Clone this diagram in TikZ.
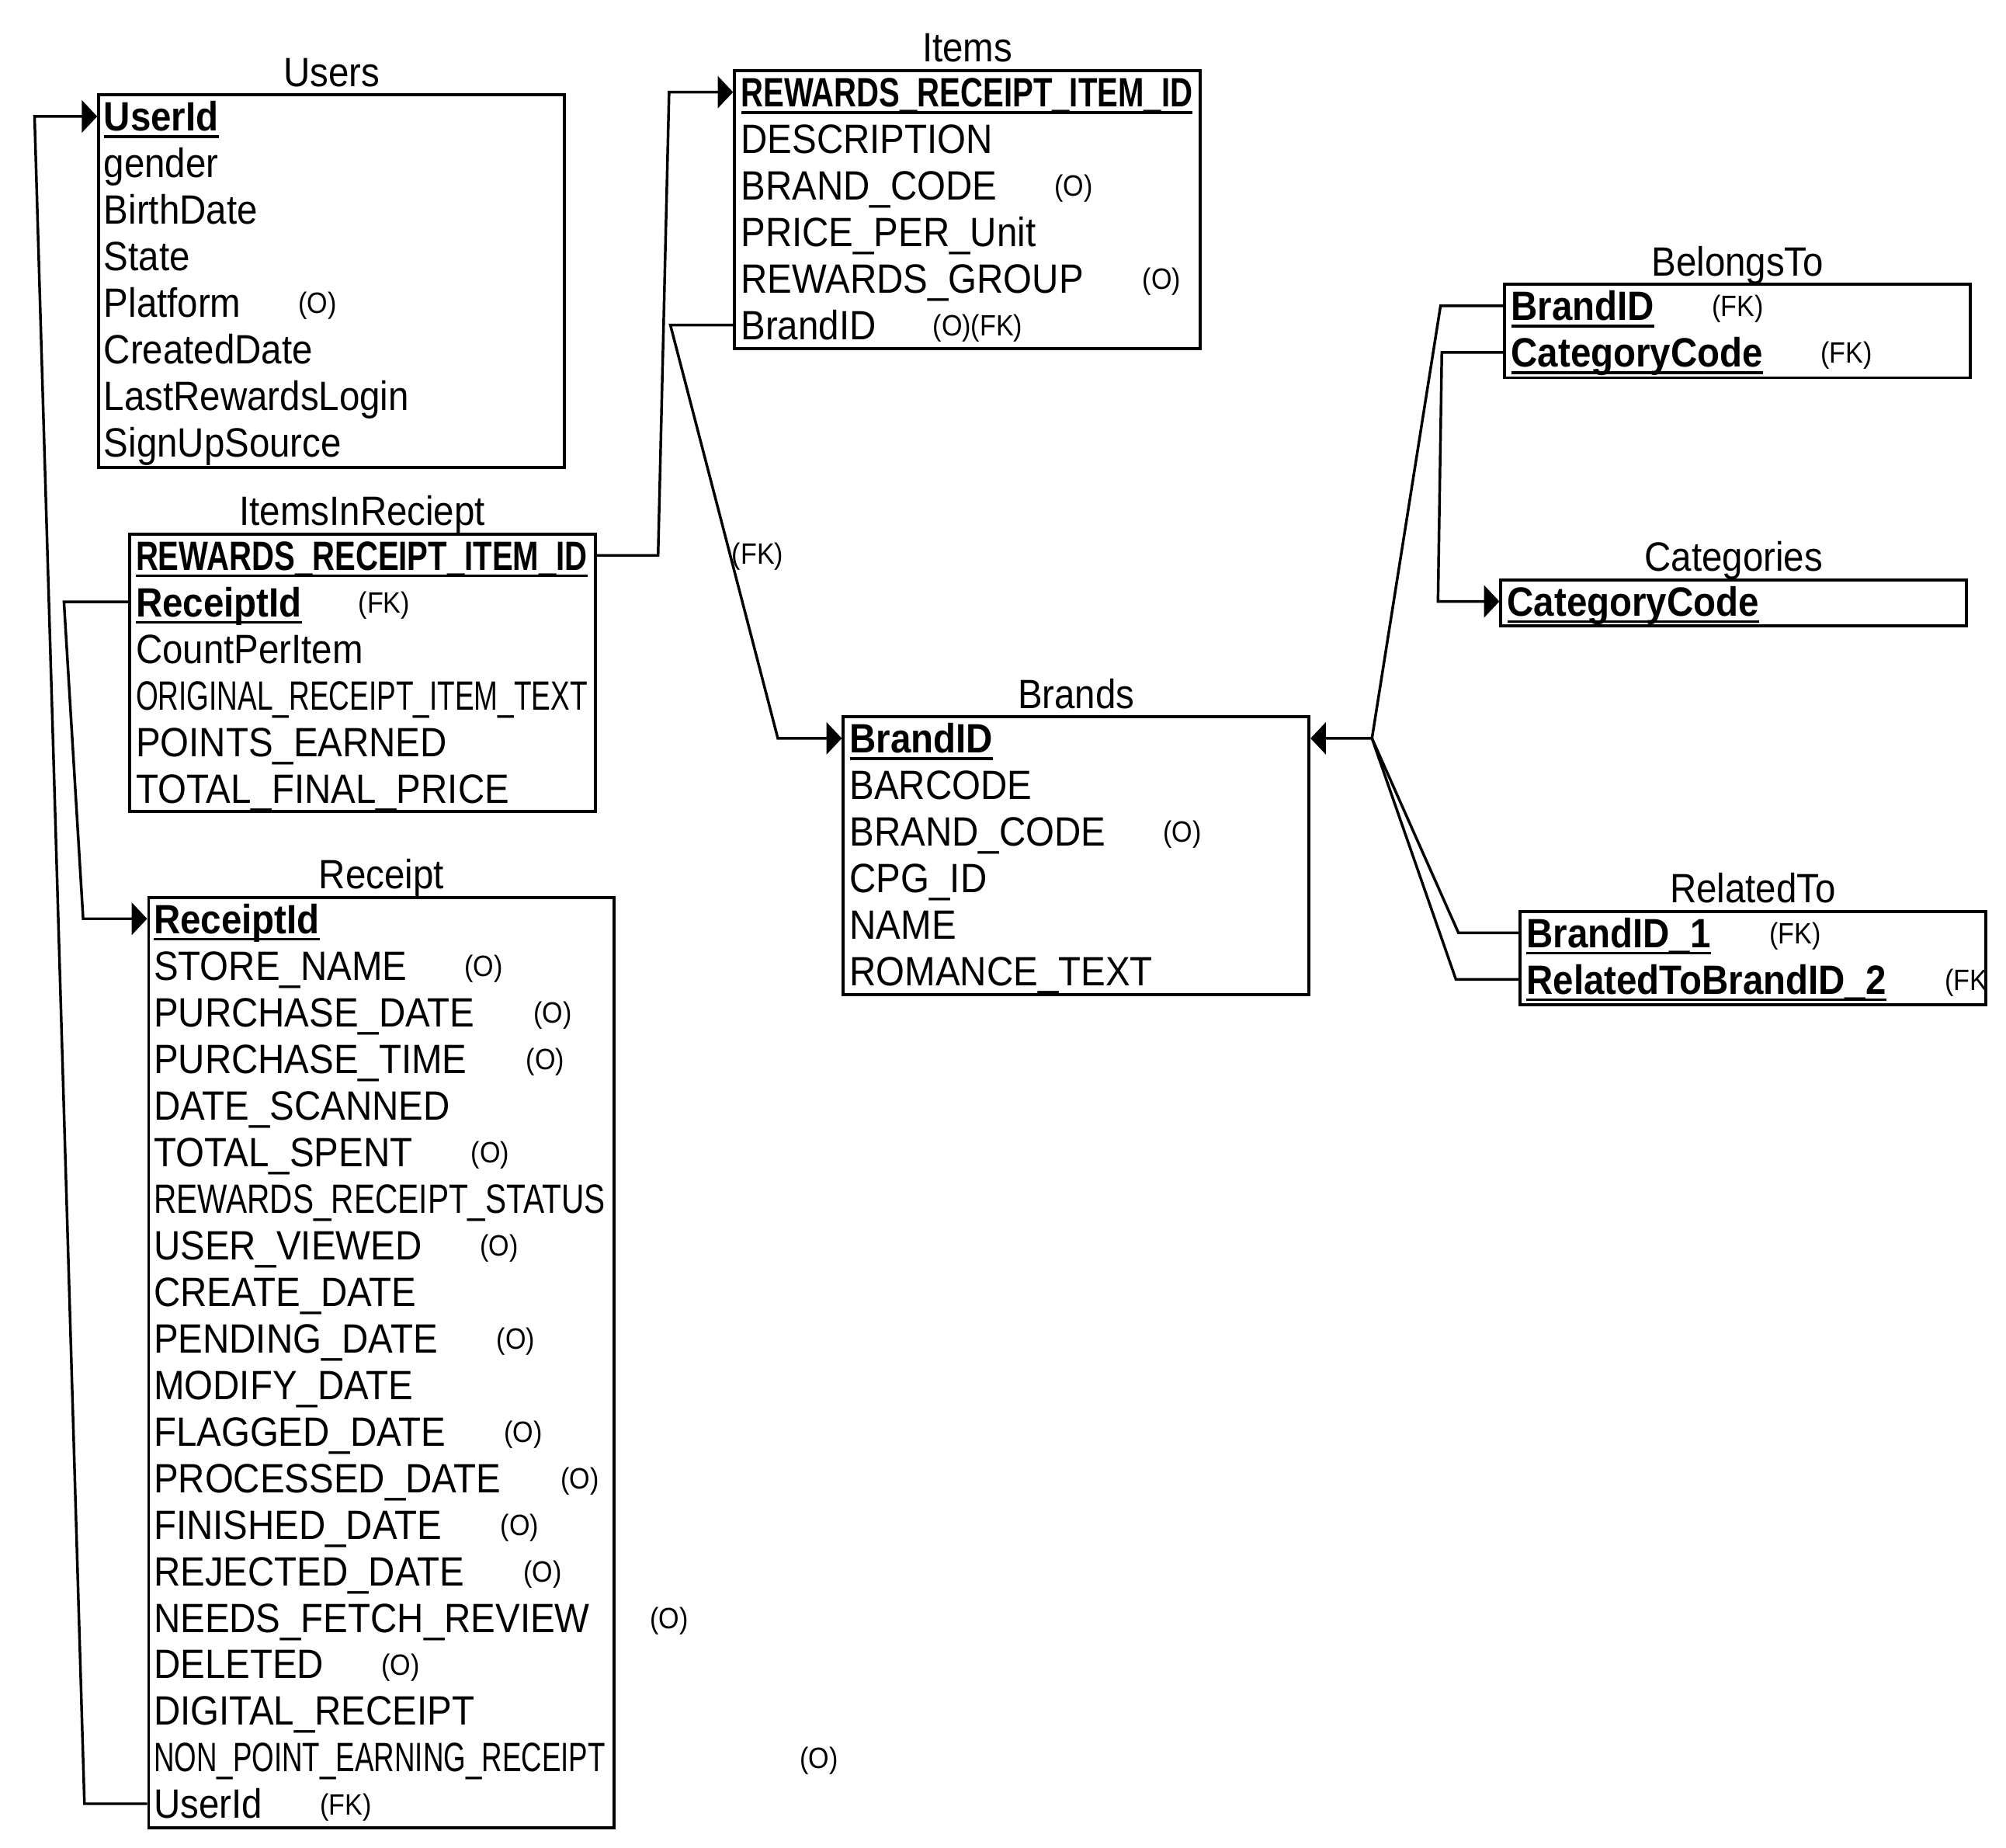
\documentclass[tikz,border=0pt]{standalone}
\usepackage{fontspec}
\setmainfont{Liberation Sans}[FakeStretch=0.9]
\usepackage{graphicx}
\usetikzlibrary{arrows.meta,calc}

% bold, underlined key attribute
\newcommand\ukey[1]{\setbox0\hbox{\bfseries #1}\rlap{\rule[-5.4pt]{\wd0}{2.1pt}}\box0}
% squeeze a long attribute name to the table width
\newcommand\fitw[1]{\resizebox{353pt}{\height}{#1}}

\tikzset{
  tbl/.style={draw, line width=2.4pt, anchor=north west, inner sep=0pt, minimum width=364pt},
  fld/.style={anchor=base west, inner sep=0pt, text height=23pt, text depth=0pt, font=\fontsize{32}{38}\selectfont},
  opt/.style={anchor=base west, inner sep=0pt, text height=16.5pt, text depth=0pt, yshift=3pt, font=\fontsize{23}{26}\selectfont},
  ttl/.style={anchor=base, inner sep=0pt, font=\fontsize{32}{38}\selectfont},
  link/.style={line width=2.1pt},
  fk/.style={link, -{Triangle[length=12pt,width=25pt]}},
}

\begin{document}
\begin{tikzpicture}[x=1pt, y=-1pt]
\useasboundingbox (0,0) rectangle (1568,1444);

% ---------------- Users
\node[tbl, minimum height=291pt] (us) at (76,73) {};
\node[ttl] (us-t) at ([yshift=5.5pt]us.north) {Users};
\node[fld] (us-uid) at (81,102.5) {\ukey{UserId}};
\node[fld] (us-gen) at (81,138.9) {gender};
\node[fld] (us-bd)  at (81,175.3) {BirthDate};
\node[fld] (us-st)  at (81,211.7) {State};
\node[fld] (us-pf)  at (81,248.1) {Platform};
\node[opt] (us-pfo) at (233,248.1) {(O)};
\node[fld] (us-cd)  at (81,284.5) {CreatedDate};
\node[fld] (us-lr)  at (81,320.9) {LastRewardsLogin};
\node[fld] (us-su)  at (81,357.3) {SignUpSource};

% ---------------- ItemsInReciept
\node[tbl, minimum height=217pt] (iir) at (100,416) {};
\node[ttl] (iir-t) at ([yshift=5.5pt]iir.north) {ItemsInReciept};
\node[fld] (iir-rri) at (106,445.5) {\fitw{\ukey{REWARDS\_RECEIPT\_ITEM\_ID}}};
\node[fld] (iir-rid) at (106,481.9) {\ukey{ReceiptId}};
\node[opt] (iir-rfk) at (280,481.9) {(FK)};
\node[fld] (iir-cpi) at (106,518.3) {CountPerItem};
\node[fld] (iir-ort) at (106,554.7) {\fitw{ORIGINAL\_RECEIPT\_ITEM\_TEXT}};
\node[fld] (iir-pe)  at (106,591.1) {POINTS\_EARNED};
\node[fld] (iir-tfp) at (106,627.5) {TOTAL\_FINAL\_PRICE};

% ---------------- Receipt
\node[tbl, minimum height=727pt] (rc) at (115,700) {};
\node[ttl] (rc-t) at ([yshift=5.5pt]rc.north) {Receipt};
\node[fld] (rc-rid) at (120,729.5) {\ukey{ReceiptId}};
\node[fld] (rc-sn)  at (120,765.9) {STORE\_NAME};
\node[opt] (rc-sno) at (363,765.9) {(O)};
\node[fld] (rc-pd)  at (120,802.3) {PURCHASE\_DATE};
\node[opt] (rc-pdo) at (417,802.3) {(O)};
\node[fld] (rc-pt)  at (120,838.7) {PURCHASE\_TIME};
\node[opt] (rc-pto) at (411,838.7) {(O)};
\node[fld] (rc-ds)  at (120,875.1) {DATE\_SCANNED};
\node[fld] (rc-ts)  at (120,911.5) {TOTAL\_SPENT};
\node[opt] (rc-tso) at (368,911.5) {(O)};
\node[fld] (rc-rrs) at (120,947.9) {\fitw{REWARDS\_RECEIPT\_STATUS}};
\node[fld] (rc-uv)  at (120,984.3) {USER\_VIEWED};
\node[opt] (rc-uvo) at (375,984.3) {(O)};
\node[fld] (rc-cd)  at (120,1020.7) {CREATE\_DATE};
\node[fld] (rc-pnd) at (120,1057.1) {PENDING\_DATE};
\node[opt] (rc-pno) at (388,1057.1) {(O)};
\node[fld] (rc-md)  at (120,1093.5) {MODIFY\_DATE};
\node[fld] (rc-fd)  at (120,1129.9) {FLAGGED\_DATE};
\node[opt] (rc-fdo) at (394,1129.9) {(O)};
\node[fld] (rc-prd) at (120,1166.3) {PROCESSED\_DATE};
\node[opt] (rc-pro) at (438,1166.3) {(O)};
\node[fld] (rc-fin) at (120,1202.7) {FINISHED\_DATE};
\node[opt] (rc-fio) at (391,1202.7) {(O)};
\node[fld] (rc-rej) at (120,1239.1) {REJECTED\_DATE};
\node[opt] (rc-rjo) at (409,1239.1) {(O)};
\node[fld] (rc-nfr) at (120,1275.5) {NEEDS\_FETCH\_REVIEW};
\node[opt] (rc-nfo) at (508,1275.5) {(O)};
\node[fld] (rc-del) at (120,1311.9) {DELETED};
\node[opt] (rc-deo) at (298,1311.9) {(O)};
\node[fld] (rc-dr)  at (120,1348.3) {DIGITAL\_RECEIPT};
\node[fld] (rc-npe) at (120,1384.7) {\fitw{NON\_POINT\_EARNING\_RECEIPT}};
\node[opt] (rc-npo) at (625,1384.7) {(O)};
\node[fld] (rc-uid) at (120,1421.1) {UserId};
\node[opt] (rc-ufk) at (250,1421.1) {(FK)};

% ---------------- Items
\node[tbl, minimum height=217pt] (it) at (573,54) {};
\node[ttl] (it-t) at ([yshift=5.5pt]it.north) {Items};
\node[fld] (it-rri) at (579,83.5) {\fitw{\ukey{REWARDS\_RECEIPT\_ITEM\_ID}}};
\node[fld] (it-dsc) at (579,119.9) {DESCRIPTION};
\node[fld] (it-bc)  at (579,156.3) {BRAND\_CODE};
\node[opt] (it-bco) at (824,156.3) {(O)};
\node[fld] (it-ppu) at (579,192.7) {PRICE\_PER\_Unit};
\node[fld] (it-rg)  at (579,229.1) {REWARDS\_GROUP};
\node[opt] (it-rgo) at (893,229.1) {(O)};
\node[fld] (it-bid) at (579,265.5) {BrandID};
\node[opt] (it-bfk) at (729,265.5) {(O)(FK)};

% ---------------- Brands
\node[tbl, minimum height=217pt] (br) at (658,559) {};
\node[ttl] (br-t) at ([yshift=5.5pt]br.north) {Brands};
\node[fld] (br-bid) at (664,588.5) {\ukey{BrandID}};
\node[fld] (br-bar) at (664,624.9) {BARCODE};
\node[fld] (br-bc)  at (664,661.3) {BRAND\_CODE};
\node[opt] (br-bco) at (909,661.3) {(O)};
\node[fld] (br-cpg) at (664,697.7) {CPG\_ID};
\node[fld] (br-nm)  at (664,734.1) {NAME};
\node[fld] (br-rt)  at (664,770.5) {ROMANCE\_TEXT};

% ---------------- BelongsTo
\node[tbl, minimum height=73pt] (bt) at (1175,221) {};
\node[ttl] (bt-t) at ([yshift=5.5pt]bt.north) {BelongsTo};
\node[fld] (bt-bid) at (1181,250.5) {\ukey{BrandID}};
\node[opt] (bt-bfk) at (1338,250.5) {(FK)};
\node[fld] (bt-cc)  at (1181,286.9) {\ukey{CategoryCode}};
\node[opt] (bt-cfk) at (1423,286.9) {(FK)};

% ---------------- Categories
\node[tbl, minimum height=36pt] (ct) at (1172,452) {};
\node[ttl] (ct-t) at ([yshift=5.5pt]ct.north) {Categories};
\node[fld] (ct-cc) at (1178,481.5) {\ukey{CategoryCode}};

% ---------------- RelatedTo
\node[tbl, minimum height=73pt] (rt) at (1187,711) {};
\node[ttl] (rt-t) at ([yshift=5.5pt]rt.north) {RelatedTo};
\node[fld] (rt-b1) at (1193,740.5) {\ukey{BrandID\_1}};
\node[opt] (rt-b1fk) at (1383,740.5) {(FK)};
\node[fld] (rt-b2) at (1193,776.9) {\ukey{RelatedToBrandID\_2}};
\begin{scope}
  \clip (rt.north west) rectangle (rt.south east);
  \node[opt] (rt-b2fk) at (1520,776.9) {(FK)};
\end{scope}

% ---------------- relationships
% Receipt.UserId -> Users.UserId
\draw[fk] (rc.west |- rc-uid) -- ++(-49,0)
  -- ($(us.west |- us-uid)+(-49,0)$) -- (us.west |- us-uid);
% ItemsInReciept.ReceiptId -> Receipt.ReceiptId
\draw[fk] (iir.west |- iir-rid) -- ++(-50,0)
  -- ($(rc.west |- rc-rid)+(-50,0)$) -- (rc.west |- rc-rid);
% ItemsInReciept.REWARDS_RECEIPT_ITEM_ID -> Items
\draw[fk] (iir.east |- iir-rri) -- ++(48,0)
  -- ($(it.west |- it-rri)+(-50,0)$) -- (it.west |- it-rri);
% Items.BrandID -> Brands.BrandID
\draw[fk] (it.west |- it-bid) -- ++(-49,0)
  -- ($(br.west |- br-bid)+(-50,0)$) -- (br.west |- br-bid);
\node[opt] (fk-lbl) at (572,444) {(FK)};

% BelongsTo / RelatedTo -> Brands.BrandID
\coordinate (hub) at ($(br.east |- br-bid)+(48,0)$);
\draw[fk] (bt.west |- bt-bid) -- ++(-49,0) -- (hub) -- (br.east |- br-bid);
\draw[link] (rt.west |- rt-b1) -- ++(-47,0) -- (hub);
\draw[link] (rt.west |- rt-b2) -- ++(-49,0) -- (hub);

% BelongsTo.CategoryCode -> Categories.CategoryCode
\draw[fk] (bt.west |- bt-cc) -- ++(-48,0)
  -- ($(ct.west |- ct-cc)+(-48,0)$) -- (ct.west |- ct-cc);
\end{tikzpicture}
\end{document}
